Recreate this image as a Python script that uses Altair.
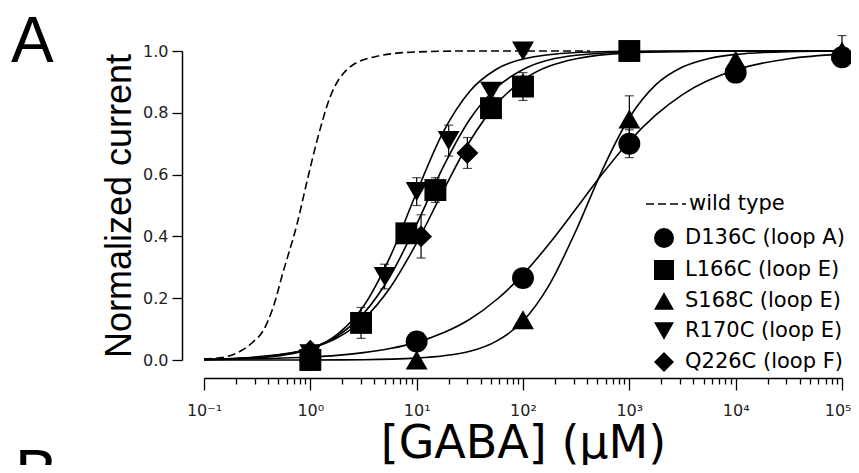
import altair as alt
import pandas as pd

# ---------------- data ----------------
mutants = ["D136C (loop A)", "L166C (loop E)", "S168C (loop E)", "R170C (loop E)", "Q226C (loop F)"]
shapes = ["circle", "square", "triangle-up", "triangle-down", "diamond"]

# measured points: concentration (uM), normalized current, error (SEM)
d136_conc = [1, 10, 100, 1000, 10000, 100000]
d136_resp = [0.0, 0.06, 0.265, 0.70, 0.93, 0.98]
d136_err = [0, 0, 0, 0.045, 0.025, 0.03]

l166_conc = [1, 3, 8, 15, 50, 100, 1000]
l166_resp = [0.0, 0.12, 0.41, 0.55, 0.815, 0.885, 1.0]
l166_err = [0, 0.05, 0.03, 0.04, 0.03, 0.045, 0.01]

s168_conc = [10, 100, 1000, 10000, 100000]
s168_resp = [0.0, 0.13, 0.78, 0.97, 1.0]
s168_err = [0, 0, 0.075, 0, 0.05]

r170_conc = [1, 5, 10, 20, 50, 100]
r170_resp = [0.02, 0.27, 0.545, 0.71, 0.87, 1.0]
r170_err = [0, 0.04, 0.045, 0.05, 0.02, 0.01]

q226_conc = [1, 3, 11, 30, 100, 1000]
q226_resp = [0.03, 0.12, 0.40, 0.67, 0.89, 1.0]
q226_err = [0, 0, 0.07, 0.05, 0, 0]

# fitted curves (log10 concentration, normalized current)
d136_curve_log = [-1, -0.5, 0, 0.25, 0.5, 0.75, 1.0, 1.25, 1.5, 1.75, 2.0, 2.25, 2.5, 2.75, 3.0, 3.25, 3.5, 4.0, 4.5, 5.0]
d136_curve_y = [0.0015, 0.004, 0.0095, 0.015, 0.024, 0.037, 0.057, 0.088, 0.132, 0.195, 0.277, 0.378, 0.49, 0.604, 0.708, 0.793, 0.859, 0.939, 0.975, 0.99]

l166_curve_log = [-1, -0.5, 0, 0.25, 0.5, 0.75, 1.0, 1.25, 1.5, 1.75, 2.0, 2.5, 3.0, 3.5, 4.0, 5.0]
l166_curve_y = [0.002, 0.009, 0.038, 0.077, 0.150, 0.271, 0.440, 0.625, 0.779, 0.881, 0.940, 0.986, 0.997, 0.999, 1.0, 1.0]

s168_curve_log = [-1, 0, 0.5, 1.0, 1.5, 1.75, 2.0, 2.25, 2.5, 2.75, 3.0, 3.25, 3.5, 3.75, 4.0, 4.5, 5.0]
s168_curve_y = [0.0, 0.0002, 0.001, 0.006, 0.028, 0.061, 0.126, 0.245, 0.420, 0.618, 0.784, 0.891, 0.948, 0.976, 0.989, 0.998, 1.0]

r170_curve_log = [-1, -0.5, 0, 0.25, 0.5, 0.75, 1.0, 1.25, 1.5, 1.75, 2.0, 2.5, 3.0, 3.5, 4.0, 5.0]
r170_curve_y = [0.001, 0.007, 0.036, 0.082, 0.174, 0.334, 0.543, 0.738, 0.870, 0.941, 0.974, 0.995, 0.999, 1.0, 1.0, 1.0]

q226_curve_log = [-1, -0.5, 0, 0.25, 0.5, 0.75, 1.0, 1.25, 1.5, 1.75, 2.0, 2.5, 3.0, 3.5, 4.0, 5.0]
q226_curve_y = [0.002, 0.010, 0.037, 0.071, 0.132, 0.234, 0.379, 0.548, 0.708, 0.828, 0.906, 0.975, 0.994, 0.998, 1.0, 1.0]

wt_curve_log = [-1.0, -0.8, -0.69, -0.55, -0.44, -0.35, -0.26, -0.125, -0.03, 0.063, 0.185, 0.345, 0.59, 1.0, 1.5, 2.0, 2.63]
wt_curve_y = [0.003, 0.01, 0.023, 0.055, 0.097, 0.17, 0.28, 0.44, 0.58, 0.71, 0.85, 0.94, 0.98, 0.997, 1.0, 1.0, 1.0]

# axis ticks
major_ticks = [0.1, 1, 10, 100, 1000, 10000, 100000]
major_labels = ["10⁻¹", "10⁰", "10¹", "10²", "10³", "10⁴", "10⁵"]
minor_ticks = [round(m * d, 6) for d in [0.1, 1, 10, 100, 1000, 10000] for m in range(2, 10)]
y_ticks = [0.0, 0.2, 0.4, 0.6, 0.8, 1.0]

# ---------------- tables ----------------
point_sets = [
    (mutants[0], d136_conc, d136_resp, d136_err),
    (mutants[1], l166_conc, l166_resp, l166_err),
    (mutants[2], s168_conc, s168_resp, s168_err),
    (mutants[3], r170_conc, r170_resp, r170_err),
    (mutants[4], q226_conc, q226_resp, q226_err),
]
rows = []
for name, cs, rs, es in point_sets:
    for c, r, e in zip(cs, rs, es):
        rows.append({"mutant": name, "conc": c, "resp": r, "err": e, "lo": r - e, "hi": r + e})
pts = pd.DataFrame(rows)
bars = pts[pts["err"] > 0]

curve_sets = [
    (mutants[0], d136_curve_log, d136_curve_y),
    (mutants[1], l166_curve_log, l166_curve_y),
    (mutants[2], s168_curve_log, s168_curve_y),
    (mutants[3], r170_curve_log, r170_curve_y),
    (mutants[4], q226_curve_log, q226_curve_y),
]
crow = []
for name, ls, ys in curve_sets:
    for l, y in zip(ls, ys):
        crow.append({"mutant": name, "conc": 10 ** l, "resp": y})
curves = pd.DataFrame(crow)
wt = pd.DataFrame({"series": "wild type", "conc": [10 ** l for l in wt_curve_log], "resp": wt_curve_y})

# ---------------- encodings ----------------
W, H = 638, 309
is_major = "indexof([" + ",".join(str(v) for v in major_ticks) + "], datum.value) >= 0"
is_last = f"datum.value == {major_ticks[-1]}"
label_expr = " : ".join(
    f"datum.value == {v} ? '{lab}'" for v, lab in zip(major_ticks, major_labels)
) + " : ''"

x_axis = alt.Axis(
    values=major_ticks + minor_ticks, labelExpr=label_expr, offset=18,
    tickSize={"condition": {"test": is_major, "value": 12}, "value": 6},
    labelAlign={"condition": {"test": is_last, "value": "right"}, "value": "center"},
    labelOffset={"condition": {"test": is_last, "value": 9}, "value": 0},
    domainColor="black", domainWidth=1.5, tickColor="black", tickWidth=1.3,
    labelFont="DejaVu Sans", labelFontSize=16, labelColor="#222", labelPadding=12,
    labelOverlap=False, labelFlush=False, grid=False,
    title="[GABA] (μM)", titleFont="DejaVu Sans", titleFontSize=46,
    titleFontWeight="normal", titleColor="black", titlePadding=3,
)
y_axis = alt.Axis(
    values=y_ticks, format=".1f", offset=22, tickSize=10,
    domainColor="black", domainWidth=1.5, tickColor="black", tickWidth=1.3,
    labelFont="DejaVu Sans", labelFontSize=16, labelColor="#222", labelPadding=4,
    grid=False, title="Normalized current", titleFont="Liberation Sans",
    titleFontSize=36, titleFontWeight="normal", titleColor="black", titlePadding=4,
)
x_scale = alt.Scale(type="log", domain=[0.1, 100000], nice=False)
y_scale = alt.Scale(domain=[0, 1], nice=False, zero=False)

X = alt.X("conc:Q", scale=x_scale, axis=x_axis)


def Y(field):
    return alt.Y(f"{field}:Q", scale=y_scale, axis=y_axis)


wt_line = alt.Chart(wt).mark_line(color="black", strokeWidth=1.6, interpolate="monotone").encode(
    x=X, y=Y("resp"),
    strokeDash=alt.StrokeDash(
        "series:N", scale=alt.Scale(domain=["wild type"], range=[[8, 4]]),
        legend=alt.Legend(
            orient="none", legendX=441, legendY=132, title=None, padding=0,
            symbolType="stroke", symbolSize=1600, symbolStrokeWidth=1.6,
            symbolStrokeColor="black", labelFont="DejaVu Sans", labelFontSize=21,
            labelColor="black", labelOffset=2,
        ),
    ),
)

fit_lines = alt.Chart(curves).mark_line(color="black", strokeWidth=1.6, interpolate="monotone").encode(
    x=X, y=Y("resp"), detail="mutant:N"
)

err_rule = alt.Chart(bars).mark_rule(color="black", strokeWidth=1.2).encode(
    x=X, y=Y("lo"), y2="hi:Q"
)
cap_lo = alt.Chart(bars).mark_tick(color="black", orient="horizontal", size=9, thickness=1.2).encode(
    x=X, y=Y("lo")
)
cap_hi = alt.Chart(bars).mark_tick(color="black", orient="horizontal", size=9, thickness=1.2).encode(
    x=X, y=Y("hi")
)

points = alt.Chart(pts).mark_point(filled=True, size=480, color="black", opacity=1).encode(
    x=X, y=Y("resp"),
    shape=alt.Shape(
        "mutant:N", scale=alt.Scale(domain=mutants, range=shapes),
        legend=alt.Legend(
            orient="none", legendX=449, legendY=176, title=None, padding=0,
            symbolSize=400, symbolFillColor="black", symbolStrokeColor="black",
            labelFont="DejaVu Sans", labelFontSize=21, labelColor="black",
            labelOffset=10, rowPadding=6,
        ),
    ),
)

label_a = alt.Chart(alt.Data(values=[{"t": "A"}])).mark_text(
    text="A", font="Liberation Sans", fontSize=64, align="left", baseline="alphabetic", color="black"
).encode(x=alt.value(-193), y=alt.value(11))
label_b = alt.Chart(alt.Data(values=[{"t": "B"}])).mark_text(
    text="B", font="Liberation Sans", fontSize=64, align="left", baseline="alphabetic", color="black"
).encode(x=alt.value(-189), y=alt.value(444))

chart = alt.layer(
    wt_line, fit_lines, err_rule, cap_lo, cap_hi, points, label_a, label_b
).properties(
    width=W, height=H,
    autosize=alt.AutoSizeParams(type="none"),
    padding={"left": 196, "top": 43, "right": 9, "bottom": 105},
).configure_view(stroke=None)

chart.save("out.html", embed_options={"renderer": "svg", "actions": False})
